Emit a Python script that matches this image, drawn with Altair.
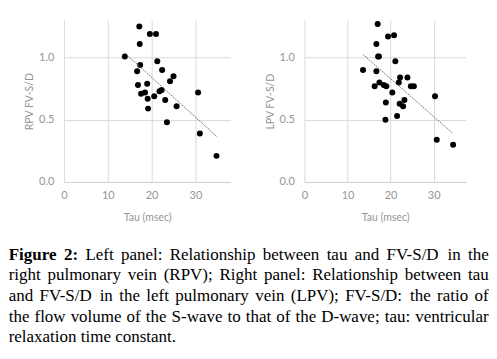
import altair as alt
import pandas as pd

# ---------------- data ----------------
tau_rpv = [13.9, 17.2, 17.3, 17.4, 16.7, 16.9, 17.6, 18.5, 19.0, 19.1, 19.2, 19.6, 21.0,
           21.3, 20.6, 21.8, 22.3, 22.4, 23.1, 23.5, 24.2, 25.0, 25.7, 30.6, 31.0, 34.8]
fv_rpv = [1.01, 1.25, 1.11, 0.94, 0.89, 0.78, 0.71, 0.72, 0.79, 0.67, 0.59, 1.19, 1.19,
          0.97, 0.69, 0.73, 0.74, 0.90, 0.66, 0.48, 0.81, 0.85, 0.61, 0.72, 0.39, 0.21]

tau_lpv = [13.6, 17.0, 16.7, 17.1, 17.3, 16.7, 16.3, 17.4, 18.4, 19.0, 18.9, 18.8, 19.4, 20.8,
           21.1, 20.4, 21.9, 22.2, 22.1, 21.5, 22.9, 23.2, 23.9, 24.7, 25.4, 30.3, 30.7, 34.5]
fv_lpv = [0.90, 1.27, 1.11, 1.01, 1.01, 0.89, 0.77, 0.80, 0.78, 0.77, 0.64, 0.50, 1.17, 1.18,
          0.97, 0.72, 0.80, 0.84, 0.63, 0.53, 0.61, 0.66, 0.84, 0.77, 0.77, 0.69, 0.34, 0.30]

x_ticks = [0, 10, 20, 30]
y_ticks = [0.0, 0.5, 1.0]
x_title = "Tau (msec)"
y_title_left = "RPV FV-S/D"
y_title_right = "LPV FV-S/D"

caption_lines = [
    "Figure 2: Left panel: Relationship between tau and FV-S/D in the",
    "right pulmonary vein (RPV); Right panel: Relationship between tau",
    "and FV-S/D in the left pulmonary vein (LPV); FV-S/D: the ratio of",
    "the flow volume of the S-wave to that of the D-wave; tau: ventricular",
    "relaxation time constant.",
]
bold_words = 2  # "Figure 2:"

# ---------------- caption layout (justified, Times metrics) ----------------
FS = 17
TIMES = {' ': 250, '!': 333, '(': 333, ')': 333, ',': 250, '-': 333, '.': 250, '/': 278,
         ':': 278, ';': 278}
for d in '0123456789':
    TIMES[d] = 500
TIMES.update(dict(zip("ABCDEFGHIJKLMNOPQRSTUVWXYZ",
                      [722, 667, 667, 722, 611, 556, 722, 722, 333, 389, 722, 611, 889, 722, 722,
                       556, 722, 667, 556, 611, 722, 722, 944, 722, 722, 611])))
TIMES.update(dict(zip("abcdefghijklmnopqrstuvwxyz",
                      [444, 500, 444, 500, 444, 333, 500, 500, 278, 278, 500, 278, 778, 500, 500,
                       500, 500, 333, 389, 278, 500, 500, 722, 500, 500, 444])))
TIMES_B = dict(TIMES)
TIMES_B.update({'F': 611, 'u': 556, 'r': 444, ':': 333})


def wwidth(w, bold):
    t = TIMES_B if bold else TIMES
    return sum(t.get(c, 500) for c in w) * FS / 1000.0


PLOT_LEFT = 55.3   # plot origin relative to chart left edge
PLOT_TOP = 12
TEXT_W = 481
baselines_page = [260, 280.7, 301.4, 322.1, 342.8]

rows = []
k = 0
for li, line in enumerate(caption_lines):
    words = line.split(" ")
    flags = []
    for w in words:
        flags.append(k < bold_words)
        k += 1
    widths = [wwidth(w, b) for w, b in zip(words, flags)]
    if li < len(caption_lines) - 1:
        gap = (TEXT_W - sum(widths)) / (len(words) - 1)
    else:
        gap = 0.25 * FS
    x = 0.0
    for w, b, wd in zip(words, flags, widths):
        rows.append({"word": w, "bold": b, "px": x - PLOT_LEFT,
                     "py": baselines_page[li] - 8 - PLOT_TOP})
        x += wd + gap
cap = pd.DataFrame(rows)

GRID = "#d9d9d9"
LAB = "#959595"


def panel(tau, fv, ytitle, xmax, width, with_caption):
    df = pd.DataFrame({"tau": tau, "fv": fv})
    xs = alt.Scale(domain=[0, xmax], nice=False, zero=False)
    ys = alt.Scale(domain=[0, 1.3], nice=False)
    xax = alt.Axis(values=x_ticks, title=x_title, labelFlush=False)
    yax = alt.Axis(values=y_ticks, format=".1f", title=ytitle)
    base = alt.Chart(df)
    pts = base.mark_circle(size=36, color="black", opacity=1).encode(
        x=alt.X("tau:Q", scale=xs, axis=xax),
        y=alt.Y("fv:Q", scale=ys, axis=yax),
    )
    trend = base.transform_regression("tau", "fv").mark_line(
        color="#6a6a6a", strokeWidth=1, strokeDash=[1.5, 1]
    ).encode(x=alt.X("tau:Q", scale=xs), y=alt.Y("fv:Q", scale=ys))
    inner = alt.layer(pts, trend)
    if with_caption:
        t_norm = alt.Chart(cap[~cap["bold"]]).mark_text(
            align="left", baseline="alphabetic", font="Liberation Serif", fontSize=FS,
            color="black"
        ).encode(x=alt.X("px:Q", scale=None, axis=None),
                 y=alt.Y("py:Q", scale=None, axis=None), text="word:N")
        t_bold = alt.Chart(cap[cap["bold"]]).mark_text(
            align="left", baseline="alphabetic", font="Liberation Serif", fontSize=FS,
            fontWeight="bold", color="black"
        ).encode(x=alt.X("px:Q", scale=None, axis=None),
                 y=alt.Y("py:Q", scale=None, axis=None), text="word:N")
        out = alt.layer(inner, t_norm, t_bold).resolve_scale(x="independent", y="independent")
    else:
        out = inner
    return out.properties(width=width, height=162)


left = panel(tau_rpv, fv_rpv, y_title_left, 38, 167, True)
right = panel(tau_lpv, fv_lpv, y_title_right, 37.5, 162, False)

chart = alt.hconcat(left, right, spacing=74, bounds="flush").properties(
    padding={"left": 0, "top": 12, "right": 0, "bottom": 0}
).configure_view(stroke=None).configure_axis(
    grid=True, gridColor=GRID, gridWidth=1, ticks=False,
    labelFont="Lato", labelFontSize=11, labelColor=LAB,
    titleFont="Lato", titleFontSize=10.5, titleFontWeight="normal", titleColor=LAB,
).configure_axisX(
    domain=True, domainColor="#cfcfcf", labelPadding=8, titlePadding=12
).configure_axisY(
    domain=False, labelPadding=10, titlePadding=4
)

chart.save("out.html", embed_options={"renderer": "svg", "actions": False})
